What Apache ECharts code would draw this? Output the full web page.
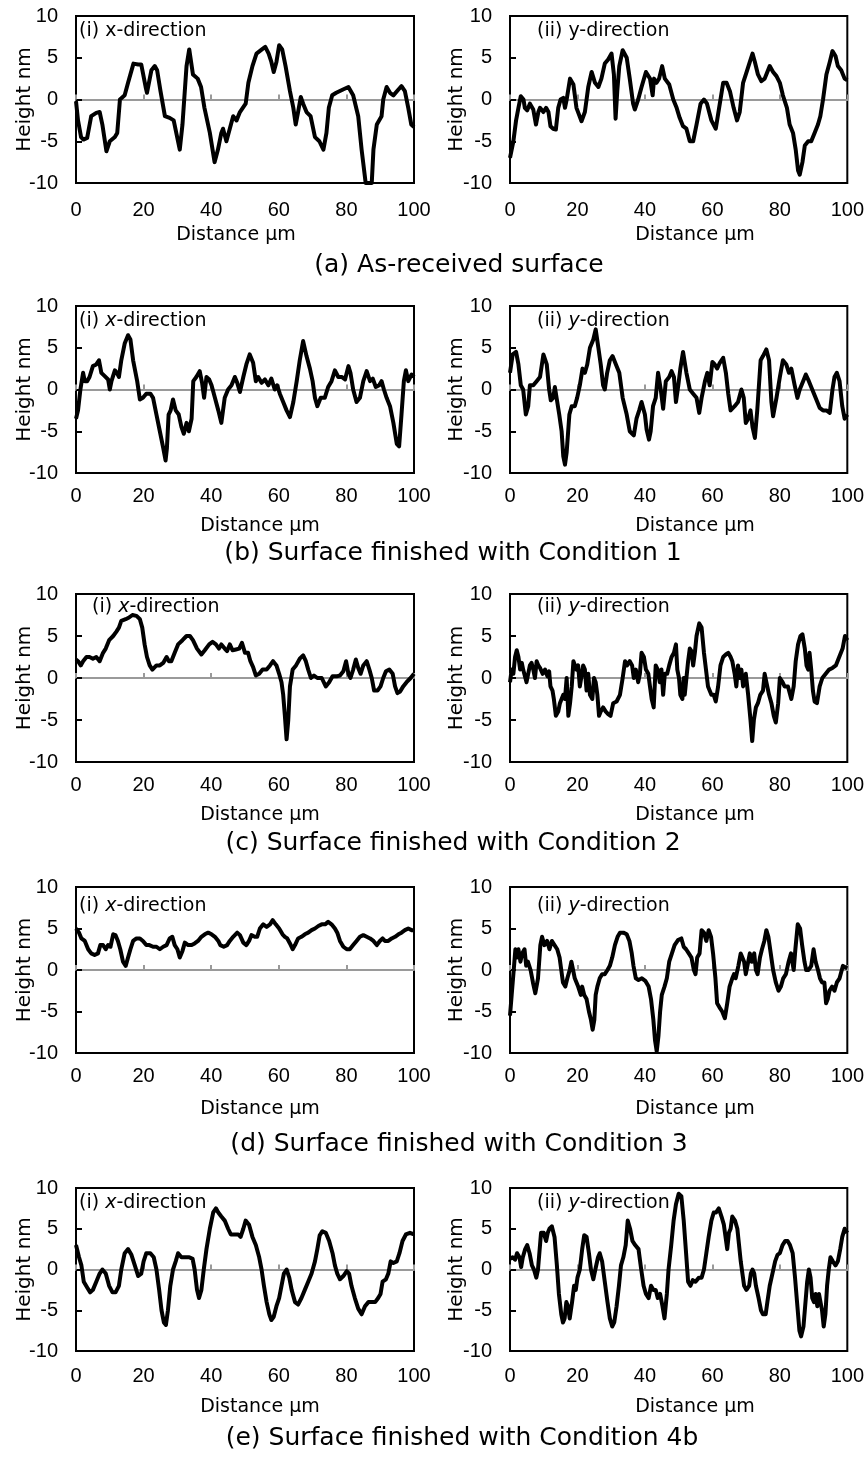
<!DOCTYPE html>
<html><head><meta charset="utf-8">
<script src="https://cdn.jsdelivr.net/npm/echarts@6/dist/echarts.min.js"></script>
<style>html,body{margin:0;padding:0;background:#fff}#c{width:867px;height:1458px}</style>
</head><body><div id="c"></div>
<script>
// ---- data: [distance µm, height nm] ----
const aX = [[0,-0.2],[0.6,-2.5],[1.5,-4.5],[2.2,-4.8],[3.3,-4.6],[4.5,-2],[6,-1.6],[7,-1.5],[7.8,-3],[9,-6.2],[10,-5],[11.5,-4.5],[12.2,-4],[13,0],[14.4,0.5],[15.4,2],[17,4.3],[18.4,4.2],[19.3,4.2],[20.6,1.5],[21,0.8],[22.3,3.5],[23.3,4],[24,3.5],[25,1],[26.3,-2],[27.7,-2.2],[28.9,-2.5],[30.7,-6],[31.5,-3],[32.7,4],[33.5,6],[34.6,3],[36,2.5],[37,1.5],[38,-1],[39.6,-4],[41,-7.5],[42,-6],[43,-4],[43.5,-3.5],[44.5,-5],[45.5,-3.5],[46.5,-2],[47.5,-2.5],[48.5,-1.5],[50.2,-0.5],[51,2],[52.2,4],[53.4,5.5],[55,6],[56,6.3],[57,5.5],[57.8,4.5],[58.5,3.3],[59.3,4.5],[60.1,6.5],[61,6],[62,4],[63.3,1],[64.3,-1],[65,-3],[65.7,-1.5],[66.5,0.3],[67.2,-0.5],[68.2,-1.5],[69.4,-2],[70.7,-4.5],[72,-5],[73.2,-6],[74.1,-4],[74.8,-1],[75.8,0.5],[77,0.8],[79,1.2],[80.6,1.5],[82,0.5],[83.5,-2],[84.5,-6],[85.7,-10],[87.5,-10],[88,-6],[89,-3],[90.4,-2],[90.9,0],[91.9,1.5],[92.9,0.8],[93.9,0.5],[95.4,1.2],[96.3,1.6],[97.3,1],[98.3,-1],[99.2,-3],[100,-3.3]];
const aY = [[0,-7],[1,-5],[1.8,-2.5],[2.5,-1],[3.2,0.4],[4,0],[4.4,-1],[5.1,-1.3],[5.9,-0.5],[6.9,-1.2],[7.7,-3],[8.4,-1.5],[8.9,-1],[9.9,-1.5],[10.7,-1],[11.4,-1.5],[12,-3.2],[12.8,-3.5],[13.6,-3.6],[14.3,-1],[15,0],[15.8,0.2],[16.3,-1],[16.8,0],[17.8,2.5],[18.8,1.8],[19.7,-1],[21.2,-2.6],[22.2,-1.5],[23.2,1.5],[24.2,3.3],[25.2,2],[26.2,1.5],[27.1,2.5],[28.1,4.3],[29.1,4.8],[30.1,5.5],[30.8,3],[31.3,-2.3],[31.8,1],[32.4,4],[33.4,5.9],[34.6,5],[35.5,2.5],[36.5,-0.5],[37,-1.2],[38,0],[39,1.5],[40.3,3.3],[41.5,2.5],[42.3,0.5],[42.7,2.5],[43.4,2],[44.2,2.5],[45.1,4],[45.9,2.5],[47.2,1.8],[48.4,0],[49.4,-1],[50.3,-2.2],[51.3,-3.2],[52.3,-3.5],[53.3,-5],[54.3,-5],[55.3,-3],[56.5,-0.5],[57.5,0],[58.4,-0.5],[59.7,-2.5],[61,-3.5],[62.2,-0.5],[63.2,2],[64.2,2],[65.2,1],[66.3,-1],[67.3,-2.5],[68.1,-1.5],[69.1,2],[70.3,3.5],[71.1,4.5],[71.9,5.5],[72.6,4.5],[73.5,3],[74.5,2.2],[75.5,2.5],[76.2,3.2],[77,4],[78,3.3],[79,2.8],[80,2],[80.9,0.5],[82.1,-1],[82.9,-3],[83.9,-4],[84.7,-6],[85.4,-8.5],[85.9,-9],[86.7,-7.5],[87.4,-5.5],[88.4,-5],[89.3,-5],[90.3,-4],[91.3,-3],[92,-2],[92.8,0],[93.8,3],[94.8,4.5],[95.6,5.8],[96.5,5.2],[97.2,4],[98.2,3.5],[99.2,2.5],[100,2.3]];
const bX = [[0,-3.5],[0.6,-2.5],[1.3,0],[2.1,2],[2.6,1],[3.3,1],[4,1.5],[5,2.8],[6,3],[6.8,3.5],[7.5,2],[8.5,1.6],[9.5,1.2],[10,0],[10.5,1],[11.5,2.3],[12.1,2],[12.7,1.5],[13.4,3.5],[14.4,5.5],[15.4,6.5],[16.1,6],[16.9,3.5],[18.1,1],[18.9,-1.2],[19.8,-1],[20.8,-0.5],[22,-0.5],[22.8,-1],[23.8,-3],[24.8,-5],[25.8,-7],[26.5,-8.5],[26.9,-7],[27.4,-3],[28,-2.5],[28.7,-1.2],[29.5,-2.5],[30.4,-3],[31.2,-4.5],[31.9,-5.3],[32.7,-4],[33.4,-5],[34.2,-3.5],[34.7,1],[35.6,1.5],[36.6,2.2],[37.3,0.8],[37.9,-1],[38.6,1.5],[39.4,1.2],[40.1,0.5],[41.1,-1],[42.1,-2.5],[43,-4],[44,-1],[45,0],[46,0.5],[47,1.5],[47.7,0.8],[48.5,-0.3],[49.5,1.5],[50.4,3],[51.4,4.2],[52.4,3.2],[53.2,1],[53.9,1.5],[54.9,0.8],[55.9,1.2],[56.9,0.5],[57.8,1.3],[58.8,0],[59.5,0.5],[60.3,-0.5],[61.3,-1.5],[62.3,-2.5],[63.3,-3.3],[64.3,-1.5],[65.3,1],[66.2,3.5],[67.2,5.8],[68.2,4],[69.2,2.5],[70,1],[70.7,-1],[71.4,-2],[72.4,-1],[73.6,-1],[74.6,0.3],[75.6,1],[76.6,2.3],[77.6,1.5],[78.6,1.5],[79.6,1.2],[80.6,2.8],[81.2,2],[82,0],[83,-1.5],[84,-1],[85,1],[86,2.2],[87,1],[87.8,1.3],[88.7,0.3],[89.7,0.5],[90.4,1],[91.1,0],[91.9,-1],[92.9,-2],[93.9,-4],[94.9,-6.5],[95.6,-6.8],[96.3,-3],[97,1],[97.6,2.3],[98.3,1],[99.3,1.8],[100,1.5]];
const bY = [[0,2],[0.8,4.2],[1.8,4.5],[2.5,3],[3.2,0.5],[3.9,0],[4.7,-3],[5.4,-2],[5.9,0.5],[6.9,0.5],[7.9,1],[8.9,1.5],[9.9,4.2],[10.9,3],[11.6,0],[12.1,-1.3],[12.8,-1],[13.3,0.3],[13.8,0.3],[14.6,-3],[15.3,-5],[15.8,-8],[16.3,-9],[16.8,-7.5],[17.6,-3],[18.3,-2],[19.2,-2],[19.9,-1],[20.7,0.5],[21.5,2.5],[22.2,2],[22.9,3],[23.7,5],[24.7,6],[25.4,7.2],[26.2,5],[26.9,3],[27.6,0.5],[28.1,0],[28.8,2],[29.6,3.5],[30.4,4],[31.4,3],[32.4,2],[33.4,-1],[34.6,-3],[35.5,-5],[36.7,-5.5],[37.5,-3.5],[38.3,-2.5],[39,-1.5],[40,-3],[40.5,-4.8],[41.2,-6],[41.7,-5],[42.4,-2],[43.2,-1],[43.9,2],[44.7,0],[45.4,-2.3],[46.2,1],[47.2,1.5],[47.9,2.2],[48.6,1.5],[49.2,-1.5],[49.9,0.5],[50.5,2.5],[51.3,4.5],[52.3,2],[53.3,0],[54.3,-0.5],[55.3,-1],[56.1,-2.8],[56.8,-1],[57.8,1],[58.5,2],[59.2,0.5],[60,3.3],[60.7,3],[61.4,2.5],[62.2,3.2],[63.2,3.8],[64,2],[64.7,-0.5],[65.4,-2.5],[66.6,-2],[67.6,-1.5],[68.6,0],[69.3,-1],[69.9,-4],[70.6,-3.5],[71.3,-2.5],[71.9,-4.5],[72.6,-5.8],[73.3,-2.5],[73.8,0.5],[74.3,3.5],[75,4],[76,4.8],[76.8,3.5],[77.5,-1.5],[78,-3.2],[79,-1],[80,1.5],[80.9,3.5],[81.9,3],[82.7,2],[83.4,2.5],[84.4,0.5],[85.2,-1],[85.9,0],[86.9,1],[87.7,1.8],[88.6,1],[89.6,0],[90.6,-1],[91.8,-2.2],[92.8,-2.5],[93.8,-2.5],[94.8,-2.8],[95.6,0],[96.2,1.5],[96.9,2],[97.7,1],[98.5,-2],[99.2,-3.5],[100,-3]];
const cX = [[0,2.2],[0.6,2],[1.4,1.5],[2.1,2],[3.1,2.5],[4,2.5],[5,2.3],[6,2.5],[7,2],[8,3],[8.8,3.5],[9.8,4.5],[11,5],[11.9,5.5],[12.7,6],[13.4,6.8],[14.7,7],[15.7,7.2],[16.7,7.5],[17.9,7.4],[18.9,7],[19.6,6],[20.3,4],[21,2.5],[21.8,1.5],[22.6,1],[23.8,1.5],[24.8,1.5],[25.8,1.8],[26.8,2.5],[27.5,2],[28.2,2],[29.2,3],[30.2,4],[31.5,4.5],[32.7,5],[33.7,5],[34.6,4.5],[35.8,3.5],[37.1,2.8],[38.1,3.3],[39.4,4],[40.4,4.3],[41.4,4],[42.3,3.5],[43,4],[44,3.5],[44.7,3.2],[45.5,4],[46.3,3.3],[47.3,3.4],[48.3,3.5],[49.1,4.2],[50,3],[50.9,3],[51.6,2],[52.4,1.3],[53.2,0.3],[54.2,0.5],[55.2,1],[56.4,1],[57.4,1.5],[58.3,2],[59.3,1.5],[60.1,0.5],[60.8,-0.5],[61.3,-2],[61.8,-4.5],[62.3,-7.3],[62.8,-5],[63.3,-1],[64.1,1],[65.1,1.5],[66.2,2.3],[67.2,2.7],[68,2],[68.7,1],[69.5,0],[70.4,0.3],[71.4,0],[72.7,0],[73.9,-1],[74.9,-0.5],[75.9,0.2],[77.1,0.2],[78.1,0.3],[79.1,0.8],[79.9,2],[80.6,0.5],[81.2,0],[82,1],[82.8,2.2],[83.5,1.2],[84.2,0.5],[85,1.5],[86,2],[86.8,1],[87.5,0],[88.2,-1.5],[89.2,-1.5],[90.1,-1],[90.9,0],[91.7,0.8],[92.7,1],[93.7,0.5],[94.4,-1],[95.1,-1.8],[95.9,-1.6],[96.8,-1],[97.8,-0.5],[99,0],[100,0.5]];
const cY = [[0,-0.5],[0.5,1],[1,0.5],[1.5,2.5],[2,3.3],[2.5,2.5],[3,1],[3.5,1.8],[3.9,1],[4.4,1.2],[4.9,-0.5],[5.4,-0.5],[5.9,1.5],[6.4,1.8],[6.9,1],[7.4,0],[7.9,2],[8.4,1.5],[8.9,1.2],[9.7,0.5],[10.4,1],[11.1,0.2],[11.6,0.8],[12,-1],[12.6,-1.5],[13,-2.5],[13.6,-4.5],[14.3,-4],[14.8,-3],[15.3,-3],[15.8,-2],[16.3,-2.5],[16.8,0],[17.3,-4.5],[17.8,-3],[18.3,-1],[18.8,2],[19.7,1],[20.2,1.5],[20.7,-1],[21.2,-1],[21.7,1.5],[22.2,1],[22.7,-1.5],[23.2,0.5],[23.7,-2],[24.4,-2.5],[24.9,0],[25.4,-0.5],[25.9,-2],[26.4,-4.5],[26.9,-4],[27.6,-3.5],[28.4,-4],[29.1,-4.3],[29.8,-4.5],[30.6,-3],[31.6,-2.8],[32.6,-2],[33.4,0],[34.1,2],[34.7,1.5],[35.5,2],[36.2,1.5],[36.7,0],[37.3,1],[38,-0.5],[38.5,0.5],[39,3],[39.7,2.5],[40.3,1],[41,0.5],[41.5,-1],[42,-2.5],[42.6,-3.5],[43.2,1.5],[43.8,1],[44.4,-0.5],[44.9,1],[45.4,-2],[45.9,0.5],[46.6,0.5],[47.2,1.5],[47.9,2.5],[48.6,3],[49.2,4],[49.6,1],[50.1,0],[50.5,-2],[51.1,-2.5],[51.5,0],[51.8,-2],[52.3,0],[52.8,2],[53.3,3.5],[53.8,3.2],[54.3,1.5],[54.8,3],[55.3,5],[56.1,6.5],[56.8,6],[57.5,3],[58.1,1],[58.7,-1],[59.2,-1],[59.7,-2],[60.4,-2],[61,-2.8],[61.7,-1],[62.4,1.5],[63.2,2.5],[64,2.8],[64.7,3],[65.4,2.5],[65.9,2],[66.6,0.5],[67.1,-1],[67.6,1.5],[68.1,0],[68.6,1],[69.1,-1],[69.9,0.5],[70.6,-2],[71.3,-5],[71.8,-7.5],[72.3,-5],[72.9,-3.5],[73.5,-3],[74.2,-2],[75,-1.5],[75.5,0.5],[76,-0.5],[76.8,-2],[77.5,-3],[78.2,-4.5],[78.8,-5.3],[79.5,-3],[80,0],[80.8,-0.5],[81.4,-1],[82.4,-1],[83.4,-2.5],[84.1,-1],[84.7,2],[85.4,4],[86.1,5],[86.7,5.2],[87.4,3.5],[87.9,1.5],[88.4,1],[88.8,3],[89.3,1],[89.8,-1.5],[90.3,-2.8],[91,-3],[91.8,-1],[92.6,0],[93.6,0.5],[94.6,1],[95.6,1.2],[96.6,1.5],[97.6,2.5],[98.6,3.5],[99.3,5],[100,4.5]];
const dX = [[0,5],[0.9,4.5],[1.6,3.8],[2.6,3.5],[3.6,2.5],[4.5,2],[5.5,1.8],[6.5,2],[7.2,3],[8,3],[8.8,2.5],[9.5,3],[10.2,2.8],[11,4.3],[11.7,4.2],[12.4,3.5],[13.1,2.5],[13.9,1],[14.7,0.5],[15.4,1.5],[16.1,2.5],[16.9,3.5],[17.9,3.8],[18.9,3.8],[19.8,3.5],[20.8,3],[21.7,3],[22.8,2.8],[23.8,2.8],[24.8,2.5],[25.8,2.8],[26.8,3],[27.7,3.8],[28.5,4],[29.2,3],[30,2.5],[30.7,1.5],[31.5,2.3],[32.2,3.3],[33.2,3],[34.2,3],[35.1,3.2],[36.1,3.5],[37.1,4],[38.1,4.3],[39.1,4.5],[40.1,4.3],[41.1,4],[42.1,3.5],[42.7,3],[43.7,2.8],[44.7,3],[45.5,3.5],[46.5,4],[47.7,4.5],[48.5,4.2],[49.5,3.3],[50.4,3],[51.2,3.5],[51.9,4.2],[52.9,4],[53.6,4],[54.4,5],[55.4,5.5],[56.4,5.2],[57.4,5.5],[58.2,6],[59.1,5.5],[60.1,5],[61.1,4.3],[61.8,4],[62.5,3.8],[63.3,3.2],[64.1,2.5],[64.8,3],[65.7,3.8],[66.7,4],[67.7,4.3],[68.7,4.5],[69.7,4.8],[70.7,5],[71.7,5.3],[72.7,5.5],[73.7,5.5],[74.6,5.8],[75.6,5.5],[76.6,5],[77.3,4.5],[78.1,3.5],[79.1,2.8],[80.1,2.5],[81,2.5],[82,3],[83,3.5],[84,4],[85,4.2],[86,4],[87,3.8],[88,3.5],[89,3],[89.9,3.5],[90.7,3.8],[91.4,3.5],[92.4,3.5],[93.4,3.8],[94.4,4],[95.4,4.3],[96.3,4.5],[97.3,4.8],[98.3,5],[99.3,4.8],[100,4.8]];
const dY = [[0,-5.5],[0.5,-3],[1.1,0],[1.6,2.5],[2.1,1.5],[2.5,2.5],[3.1,1],[3.6,2],[4.3,2.5],[4.8,0.5],[5.3,1],[6.1,0],[6.8,-1.5],[7.5,-2.8],[8.3,-1],[9,3],[9.5,4],[10.2,3],[11,3.5],[11.7,2.5],[12.4,3.5],[13.2,3],[14,2.5],[14.7,1.5],[15.2,0],[15.7,-1.5],[16.4,-2],[17,-1],[17.7,0],[18.2,1],[18.7,0],[19.2,-1],[19.7,-1],[20.2,-2],[21,-3],[21.4,-2],[22,-3],[22.7,-3.5],[23.4,-5],[24,-6],[24.5,-7.2],[25,-6],[25.4,-3],[25.9,-2],[26.6,-1],[27.3,-0.5],[28.1,-0.5],[28.9,0],[29.6,0.5],[30.3,1.5],[31.1,3],[31.9,4],[32.6,4.5],[33.6,4.5],[34.6,4.3],[35.4,3.5],[36.1,2],[36.6,0.5],[37.3,-1],[38.1,-1.2],[39.1,-1],[40.1,-1.3],[41.1,-2],[41.8,-3.5],[42.5,-6],[43,-8.5],[43.5,-9.8],[44,-8],[44.5,-5],[45,-3],[45.8,-2],[46.5,-1],[47.2,1],[48,2],[48.8,3],[49.8,3.6],[50.8,3.8],[51.5,2.8],[52.2,2.5],[53,2],[53.8,1.5],[54.5,0],[55,-0.5],[55.5,1.5],[56.2,2],[56.8,4.8],[57.5,4.5],[58.2,3.5],[58.9,4.8],[59.6,4],[60.2,2],[60.9,-1],[61.4,-4],[62.1,-4.5],[62.9,-5],[63.7,-5.8],[64.4,-4],[65.1,-2],[65.9,-1],[66.4,-0.5],[66.9,-1],[67.7,0.5],[68.4,2],[68.9,2],[69.4,1],[69.9,-0.5],[70.4,-0.5],[71.1,2],[71.7,1],[72.4,2],[72.9,0],[73.4,-0.5],[74.1,1.5],[74.7,2.5],[75.4,3.5],[76,4.8],[76.6,4],[77.3,2],[78,0],[78.8,-1.5],[79.6,-2.5],[80.3,-2],[81,-1],[81.8,-0.5],[82.6,1],[83.3,2],[83.8,2],[84.1,0],[84.6,2.5],[85.3,5.5],[86,5],[86.6,3],[87.3,1],[87.8,0],[88.5,0],[89.3,0.5],[90,2.5],[90.6,1],[91.3,0],[91.9,-1],[92.5,-1.5],[93.2,-1.5],[93.7,-4],[94.2,-3.5],[94.7,-2.5],[95.5,-2],[96.2,-2.5],[96.9,-1.5],[97.7,-1],[98.7,0.5],[99.5,0.3],[100,0.2]];
const eX = [[0,3],[0.9,1.5],[1.6,0.5],[2.3,-1.5],[3.3,-2.2],[4.2,-2.8],[5,-2.5],[6,-1.5],[7,-0.5],[7.8,0],[8.8,-0.5],[9.8,-2],[10.8,-2.8],[11.7,-2.8],[12.7,-2],[13.4,0],[14.4,2],[15.4,2.5],[16.4,1.8],[17.4,0.5],[18.4,-0.8],[19.3,-0.5],[20,1],[20.8,2],[22,2],[23,1.5],[23.8,0],[24.6,-2.5],[25.3,-5],[26,-6.5],[26.6,-6.8],[27.2,-5],[27.9,-2],[28.7,0],[29.5,1],[30.2,2],[31.2,1.5],[32.2,1.5],[33.5,1.5],[34.5,1.3],[35.1,0],[35.8,-2.5],[36.4,-3.5],[37.1,-2.5],[37.8,0],[38.6,2.5],[39.6,5],[40.6,7],[41.4,7.5],[42.1,7],[43,6.5],[44,6],[45,5],[45.8,4.3],[47,4.3],[48,4.3],[48.7,4],[49.5,5],[50.2,6],[51.2,5.5],[52.2,4],[53.2,3],[54.2,1.5],[54.9,0],[55.6,-2],[56.4,-4],[57.2,-5.5],[57.8,-6.2],[58.5,-5.8],[59.3,-4.5],[60.1,-3.5],[60.8,-2],[61.5,-0.5],[62.3,0],[63.1,-1],[63.8,-2.5],[64.8,-4],[65.7,-4.3],[66.7,-3.5],[67.7,-2.5],[68.7,-1.5],[69.7,-0.5],[70.7,1],[71.4,2.5],[72.1,4.2],[72.9,4.7],[73.9,4.5],[74.9,3.5],[75.9,2],[76.6,0.5],[77.3,-0.5],[78.1,-1.2],[79.1,-0.8],[80.1,-0.2],[80.8,-0.5],[81.5,-2],[82.5,-3.5],[83.5,-4.8],[84.5,-5.5],[85.5,-4.5],[86.5,-4],[87.5,-4],[88.5,-4],[89.4,-3.5],[90.1,-3],[90.7,-1.5],[91.7,-1.2],[92.4,-0.5],[93.1,1],[93.9,0.8],[94.9,1],[95.7,2],[96.6,3.5],[97.6,4.3],[98.8,4.5],[100,4.3]];
const eY = [[0,1.3],[0.8,1.5],[1.5,1.2],[2.1,2],[2.8,1.5],[3.3,0.3],[3.8,1.5],[4.5,2.5],[5.1,3],[5.8,2],[6.5,0.5],[7.1,0],[7.8,-1],[8.3,0],[8.7,2],[9.2,4.5],[10,4.5],[10.7,3.5],[11.2,4.5],[11.7,5],[12.4,5.3],[13.2,4],[13.9,0.5],[14.5,-3],[15.2,-5.5],[15.7,-6.5],[16.2,-6],[16.7,-4],[17.2,-4.5],[17.7,-6],[18.4,-4],[19,-2],[19.5,-2.5],[20,-1],[20.7,0],[21.4,2.5],[22,4.2],[22.7,4],[23.4,2],[24,0],[24.7,-1.2],[25.3,0],[26.1,1.5],[26.6,2],[27.3,1],[28.1,-1.5],[28.9,-4],[29.6,-6],[30.3,-7],[30.9,-6.5],[31.6,-4.5],[32.3,-2],[32.9,0.5],[33.6,1.5],[34.3,3],[34.9,6],[35.6,5],[36.3,3.5],[37.1,3],[38.1,2.5],[38.9,0],[39.6,-2],[40.3,-3],[41.1,-3.5],[41.8,-2],[42.5,-2.5],[43.2,-2.5],[43.8,-3.5],[44.5,-3],[45.2,-4.5],[45.8,-6],[46.5,-3],[47,0],[47.8,3],[48.5,6],[49.2,8],[50,9.3],[50.8,9],[51.5,6],[52.2,2],[52.8,-1.5],[53.5,-2],[54.2,-1.3],[55,-1.5],[56,-1],[56.8,-1],[57.5,0],[58.2,2],[58.9,4],[59.7,6],[60.4,7],[61.1,7],[61.9,7.5],[62.7,6.5],[63.4,5.5],[63.9,4],[64.4,2.5],[64.9,4.5],[65.4,5],[65.9,6.5],[66.7,6],[67.4,5],[67.9,3],[68.4,1],[68.9,-0.5],[69.4,-2],[70.1,-2.5],[70.9,-2],[71.4,-0.5],[71.9,0],[72.4,-0.5],[72.9,-2],[73.7,-3.5],[74.4,-5],[75,-5.5],[75.8,-5.5],[76.3,-4],[77,-2],[77.8,-0.5],[78.6,1],[79.3,1.8],[80,2],[80.8,3],[81.6,3.5],[82.3,3.5],[83,3],[83.8,2],[84.5,-1],[85.1,-4],[85.8,-7.5],[86.3,-8.2],[87,-7],[87.6,-4],[88.1,-1.5],[88.6,0],[89.1,-1],[89.6,-3.5],[90.1,-4],[90.6,-3],[91.1,-4.5],[91.6,-3],[92.1,-3],[92.5,-5],[93,-7],[93.5,-5.5],[94,-2],[94.5,0],[95,1.5],[95.7,1],[96.5,0.5],[97.2,1],[97.9,2.5],[98.5,4],[99.2,5],[100,4.5]];

const profiles = [[aX, aY], [bX, bY], [cX, cY], [dX, dY], [eX, eY]];
const captions = ['(a) As-received surface', '(b) Surface finished with Condition 1', '(c) Surface finished with Condition 2', '(d) Surface finished with Condition 3', '(e) Surface finished with Condition 4b'];
const xName = 'Distance µm';
const yName = 'Height nm';

// ---- layout ----
const FONT = 'DejaVu Sans';
const NUMFONT = 'Liberation Sans';
const rows = [
  {top:16,   h:167, xm:17, lblY:31,   distY:235,  capX:459, capY:265,  distXL:236},
  {top:306,  h:167, xm:13, lblY:321,  distY:526,  capX:453, capY:553,  distXL:260},
  {top:594,  h:168, xm:13, lblY:607,  distY:815,  capX:453, capY:843,  distXL:260},
  {top:887,  h:166, xm:13, lblY:906,  distY:1109, capX:459, capY:1144, distXL:260},
  {top:1188, h:163, xm:15, lblY:1203, distY:1407, capX:462, capY:1438, distXL:260}
];
const cols = [{left:76, lblX:79, hX:25, distX:null}, {left:510, lblX:537, hX:457, distX:695}];
const W = 338;

const grid = [], xAxis = [], yAxis = [], series = [], title = [], graphic = [];
rows.forEach((r, ri) => {
  cols.forEach((c, ci) => {
    const gi = grid.length;
    grid.push({left:c.left, top:r.top, width:W, height:r.h, show:true, borderColor:'#000', borderWidth:2, backgroundColor:'transparent'});
    yAxis.push({type:'value', gridIndex:gi, min:-10, max:10, interval:5,
      axisLine:{show:true, onZero:false, lineStyle:{color:'#000', width:2}},
      axisTick:{show:true, inside:true, length:6, lineStyle:{color:'#000', width:2}},
      axisLabel:{margin:18, fontSize:20, fontFamily:NUMFONT, color:'#000'},
      splitLine:{show:false}});
    xAxis.push({type:'value', gridIndex:gi, min:0, max:100, interval:20, position:'bottom',
      axisLine:{show:false, onZero:false}, axisTick:{show:false},
      axisLabel:{margin:r.xm, fontSize:20, fontFamily:NUMFONT, color:'#000'},
      splitLine:{show:false}});
    xAxis.push({type:'value', gridIndex:gi, min:0, max:100, interval:20, position:'bottom',
      axisLine:{show:true, onZero:true, lineStyle:{color:'#9a9a9a', width:2}},
      axisTick:{show:true, inside:true, length:5, lineStyle:{color:'#9a9a9a', width:2}},
      axisLabel:{show:false}, splitLine:{show:false}});
    series.push({type:'line', xAxisIndex:gi*2, yAxisIndex:gi, data:profiles[ri][ci],
      showSymbol:false, symbol:'none', lineStyle:{color:'#000', width:4, join:'round'}, z:3});
    const dir = ci === 0 ? 'x' : 'y';
    const pre = ci === 0 ? '(i) ' : '(ii) ';
    const txt = ri === 0 ? pre + dir + '-direction' : pre + '{i|' + dir + '}-direction';
    let lx = c.lblX;
    if (ri === 2 && ci === 0) lx = 92;
    title.push({left:lx, top:r.lblY - 10, padding:0, text:txt,
      textStyle:{fontFamily:FONT, fontSize:19, fontWeight:'normal', color:'#000', lineHeight:20,
        rich:{i:{fontStyle:'italic', fontFamily:FONT, fontSize:19, color:'#000', lineHeight:20}}}});
    graphic.push({type:'text', x:(ci === 0 ? r.distXL : c.distX), y:r.distY,
      style:{text:xName, textAlign:'center', textVerticalAlign:'middle', font:'19px "' + FONT + '"', fill:'#000'}});
    graphic.push({type:'text', x:c.hX, y:r.top + r.h / 2, rotation:Math.PI / 2,
      style:{text:yName, textAlign:'center', textVerticalAlign:'middle', font:'20px "' + FONT + '"', fill:'#000'}});
  });
  graphic.push({type:'text', x:r.capX, y:r.capY,
    style:{text:captions[ri], textAlign:'center', textVerticalAlign:'middle', font:'25px "' + FONT + '"', fill:'#000'}});
});

const chart = echarts.init(document.getElementById('c'), null, {renderer:'canvas'});
chart.setOption({animation:false, backgroundColor:'#fff', grid, xAxis, yAxis, series, title, graphic});
</script>
</body></html>
